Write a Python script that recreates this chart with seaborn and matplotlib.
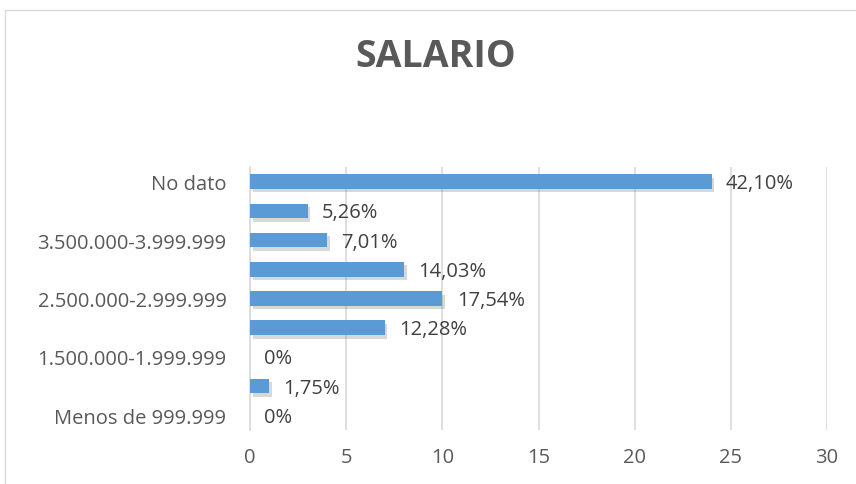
import matplotlib
matplotlib.use("Agg")
import matplotlib.pyplot as plt
import matplotlib.patheffects as pe
import seaborn as sns
import pandas as pd

# categorias de abajo hacia arriba (Excel solo muestra una de cada dos etiquetas)
categorias = ["Menos de 999.999", "1.000.000-1.499.999", "1.500.000-1.999.999",
              "2.000.000-2.499.999", "2.500.000-2.999.999", "3.000.000-3.499.999",
              "3.500.000-3.999.999", "4.000.000 o más", "No dato"]
cantidad = [0, 1, 0, 7, 10, 8, 4, 3, 24]
porcentaje = ["0%", "1,75%", "0%", "12,28%", "17,54%", "14,03%", "7,01%", "5,26%", "42,10%"]
ticks_x = [0, 5, 10, 15, 20, 25, 30]

df = pd.DataFrame({"categoria": categorias[::-1], "cantidad": cantidad[::-1],
                   "etiqueta": porcentaje[::-1]})

sns.set_style("white")
plt.rcParams['font.family'] = ['Open Sans', 'DejaVu Sans']
gris = "#595959"

fig = plt.figure(figsize=(8.56, 4.85), dpi=100)
ax = fig.add_axes([250/856, 1-431/485, 577/856, 263/485])

sns.barplot(data=df, x="cantidad", y="categoria", orient="h", color="#5B9BD5",
            width=0.5, saturation=1, ax=ax, zorder=3)
for p in ax.patches:
    p.set_linewidth(0)
    p.set_path_effects([pe.SimplePatchShadow(offset=(2, -2.5), shadow_rgbFace="#808080",
                                             alpha=0.3), pe.Normal()])

for i, row in df.iterrows():
    ax.text(row["cantidad"] + 0.75, i + 0.05, row["etiqueta"], va="center", ha="left",
            fontsize=14.5, color="#404040", zorder=4)

ax.set_xlim(0, 30)
ax.set_ylim(len(df) - 0.5, -0.5)
ax.set_xticks(ticks_x)
ax.set_xticklabels([str(t) for t in ticks_x], fontsize=14.5, color=gris)
etiquetas_y = [c if (len(df) - 1 - i) % 2 == 0 else "" for i, c in enumerate(df["categoria"])]
ax.set_yticks(range(len(df)))
ax.set_yticklabels(etiquetas_y, fontsize=14.5, color=gris)
ax.tick_params(axis="x", length=0, pad=12)
ax.tick_params(axis="y", length=0, pad=17)
ax.grid(axis="x", color="#D9D9D9", linewidth=1.2, zorder=0)
ax.set_xlabel("")
ax.set_ylabel("")
for s in ["top", "right", "bottom"]:
    ax.spines[s].set_visible(False)
ax.spines["left"].set_color("#D9D9D9")
ax.spines["left"].set_linewidth(1.2)

fig.text(436/856, 1-57/485, "SALARIO", ha="center", va="center", fontsize=27,
         fontweight="bold", color=gris)

# marco del grafico
borde = plt.Rectangle((5/856, -0.05), 1.0, 1-11/485 + 0.05, transform=fig.transFigure,
                      fill=False, edgecolor="#D9D9D9", linewidth=1)
fig.patches.append(borde)

fig.savefig("out.png", dpi=100)
